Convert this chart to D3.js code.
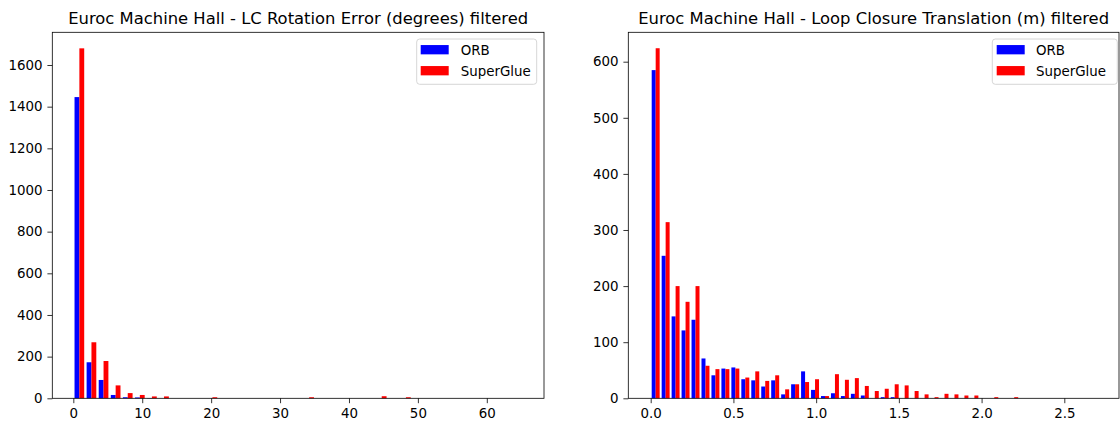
<!DOCTYPE html>
<html>
<head>
<meta charset="utf-8">
<script src="https://cdn.jsdelivr.net/npm/d3@7"></script>
<style>
  html, body { margin: 0; padding: 0; background: #fff; }
  svg { display: block; font-family: "DejaVu Sans", sans-serif; }
</style>
</head>
<body>
<svg id="chart" width="1120" height="427"></svg>
<script>
// ---------- DATA ----------
const seriesNames = ["ORB", "SuperGlue"];
const seriesColors = ["#0000ff", "#ff0000"];

// Left: LC Rotation Error (degrees), bins start at 0
const rotBinWidth = 1.755;
const rotORB =       [1446, 173, 88, 16, 5, 4, 1, 0, 0, 0, 0, 0, 0, 0, 0, 0, 0, 0, 0, 0, 0, 0, 0, 0, 0, 0, 0, 0, 0, 0, 0, 0, 0, 0, 0, 0, 0];
const rotSuperGlue = [1680, 269, 179, 62, 25, 16, 9, 9, 0, 0, 0, 5, 0, 0, 0, 0, 0, 0, 0, 5, 0, 0, 0, 0, 0, 10, 0, 5, 0, 0, 0, 0, 0, 0, 0, 0, 0];
const rotXTicks = [0, 10, 20, 30, 40, 50, 60];
const rotYTicks = [0, 200, 400, 600, 800, 1000, 1200, 1400, 1600];

// Right: Loop Closure Translation (m), bins start at 0
const transBinWidth = 0.0602;
const transORB =       [585, 254, 146, 121, 140, 71, 41, 53, 55, 34, 32, 21, 32, 7, 25, 48, 15, 4, 9, 4, 8, 5, 0, 2, 2, 0, 0, 0, 0, 0, 0, 0, 0, 0, 0, 0, 0, 0, 0, 0, 0, 0, 0, 0, 0];
const transSuperGlue = [624, 314, 200, 172, 200, 58, 52, 52, 53, 37, 48, 31, 41, 16, 25, 29, 34, 4, 43, 33, 36, 22, 13, 17, 25, 23, 13, 7, 2, 8, 7, 5, 5, 0, 2, 0, 2, 0, 0, 0, 0, 0, 0, 0, 0];
const transXTicks = [0.0, 0.5, 1.0, 1.5, 2.0, 2.5];
const transYTicks = [0, 100, 200, 300, 400, 500, 600];

// ---------- LAYOUT ----------
const panels = [
  {
    title: "Euroc Machine Hall - LC Rotation Error (degrees) filtered",
    binWidth: rotBinWidth, series: [rotORB, rotSuperGlue],
    xTicks: rotXTicks, yTicks: rotYTicks, xFmt: d3.format("d"),
    left: 52.3, right: 544, xDomain: [-3.05, 68.3], yMax: 1757,
    legend: { x0: 416.7, x1: 536.7, hx: 420.7, tx: 460.7 }
  },
  {
    title: "Euroc Machine Hall - Loop Closure Translation (m) filtered",
    binWidth: transBinWidth, series: [transORB, transSuperGlue],
    xTicks: transXTicks, yTicks: transYTicks, xFmt: d3.format(".1f"),
    left: 628.3, right: 1119, xDomain: [-0.1354, 2.8306], yMax: 652.4,
    legend: { x0: 992.3, x1: 1117.3, hx: 996.7, tx: 1036 }
  }
];
const plotTop = 32.3, plotBottom = 398.3;
const tickFont = 13.4, titleFont = 16.4;

const svg = d3.select("#chart");

panels.forEach(p => {
  const x = d3.scaleLinear().domain(p.xDomain).range([p.left, p.right]);
  const y = d3.scaleLinear().domain([0, p.yMax]).range([plotBottom, plotTop]);
  const g = svg.append("g");

  // bars
  const nx = p.series.length;
  const w = p.binWidth;
  p.series.forEach((vals, si) => {
    g.append("g").selectAll("rect")
      .data(vals.map((v, i) => ({ v, i })).filter(d => d.v > 0))
      .join("rect")
      .attr("x", d => x(d.i * w + 0.1 * w + si * 0.8 * w / nx))
      .attr("width", d => x(0.8 * w / nx) - x(0))
      .attr("y", d => y(d.v))
      .attr("height", d => y(0) - y(d.v))
      .attr("fill", seriesColors[si]);
  });

  // axes
  const xAxis = d3.axisBottom(x).tickValues(p.xTicks).tickFormat(p.xFmt).tickSizeOuter(0).tickSize(4.9).tickPadding(4.9);
  const yAxis = d3.axisLeft(y).tickValues(p.yTicks).tickFormat(d3.format("d")).tickSizeOuter(0).tickSize(4.9).tickPadding(4.9);
  const gx = g.append("g").attr("transform", `translate(0,${plotBottom})`).call(xAxis);
  const gy = g.append("g").attr("transform", `translate(${p.left},0)`).call(yAxis);
  [gx, gy].forEach(a => {
    a.select(".domain").remove();
    a.selectAll("line").attr("stroke", "#000").attr("stroke-width", 0.8);
    a.selectAll("text").attr("font-size", tickFont).attr("fill", "#000")
      .attr("font-family", "DejaVu Sans, sans-serif");
  });

  // frame
  g.append("rect")
    .attr("x", p.left).attr("y", plotTop)
    .attr("width", p.right - p.left).attr("height", plotBottom - plotTop)
    .attr("fill", "none").attr("stroke", "#000").attr("stroke-width", 0.8);

  // title
  g.append("text")
    .attr("x", (p.left + p.right) / 2).attr("y", 23.5)
    .attr("text-anchor", "middle").attr("font-size", titleFont).attr("fill", "#000")
    .text(p.title);

  // legend
  const L = p.legend;
  g.append("rect")
    .attr("x", L.x0).attr("y", 39).attr("width", L.x1 - L.x0).attr("height", 45.3)
    .attr("rx", 3).attr("fill", "#fff").attr("fill-opacity", 0.8)
    .attr("stroke", "#cccccc").attr("stroke-width", 0.8);
  seriesNames.forEach((name, si) => {
    const cy = 49.7 + si * 21;
    g.append("rect")
      .attr("x", L.hx).attr("y", cy - 4.65).attr("width", 28).attr("height", 9.3)
      .attr("fill", seriesColors[si]);
    g.append("text")
      .attr("x", L.tx).attr("y", cy + 4.9)
      .attr("font-size", tickFont).attr("fill", "#000")
      .text(name);
  });
});
</script>
</body>
</html>
